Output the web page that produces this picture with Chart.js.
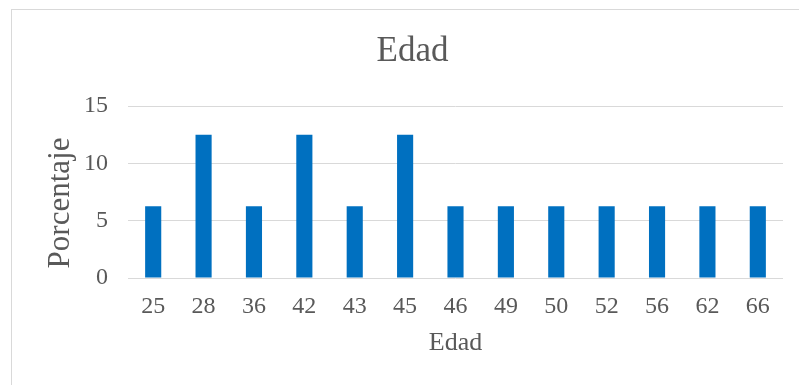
<!DOCTYPE html>
<html>
<head>
<meta charset="utf-8">
<script src="https://cdn.jsdelivr.net/npm/chart.js@4/dist/chart.umd.min.js"></script>
<style>
  html, body { margin: 0; padding: 0; background: #ffffff; }
  #wrap { position: relative; width: 799px; height: 385px; overflow: hidden; }
  #frame { position: absolute; left: 11px; top: 9px; width: 820px; height: 420px;
           border: 1px solid #d9d9d9; box-sizing: border-box; }
  canvas { position: absolute; left: 0; top: 0; }
</style>
</head>
<body>
<div id="wrap">
  <div id="frame"></div>
  <canvas id="chart" width="799" height="385"></canvas>
</div>
<script>
// Edades de los participantes y porcentaje de cada una
const edades = ['25', '28', '36', '42', '43', '45', '46', '49', '50', '52', '56', '62', '66'];
const porcentajes = [6.25, 12.5, 6.25, 12.5, 6.25, 12.5, 6.25, 6.25, 6.25, 6.25, 6.25, 6.25, 6.25];
const ticksY = [0, 5, 10, 15];
const tituloY = 'Porcentaje';

const textColor = '#595959';
const gridColor = '#d9d9d9';
const serif = "'Liberation Serif', 'Times New Roman', serif";

// Título del eje vertical, algo por debajo del centro del área de trazado
const yTitlePlugin = {
  id: 'yTitle',
  afterDraw(chart) {
    const { ctx, chartArea } = chart;
    ctx.save();
    ctx.fillStyle = textColor;
    ctx.font = '31px ' + serif;
    ctx.textAlign = 'center';
    ctx.textBaseline = 'middle';
    ctx.translate(61, (chartArea.top + chartArea.bottom) / 2 + 11);
    ctx.rotate(-Math.PI / 2);
    ctx.fillText(tituloY, 0, 0);
    ctx.restore();
  }
};

new Chart(document.getElementById('chart'), {
  type: 'bar',
  data: {
    labels: edades,
    datasets: [{
      label: tituloY,
      data: porcentajes,
      backgroundColor: '#0070c0',
      borderWidth: 0,
      categoryPercentage: 1,
      barPercentage: 0.32
    }]
  },
  options: {
    responsive: false,
    animation: false,
    layout: { padding: { left: 42, right: 16, top: 0, bottom: 26 } },
    plugins: {
      legend: { display: false },
      tooltip: { enabled: false },
      title: {
        display: true,
        text: 'Edad',
        color: textColor,
        font: { family: serif, size: 35, weight: 'normal' },
        padding: { top: 31, bottom: 33 }
      }
    },
    scales: {
      x: {
        grid: { display: false, drawTicks: false },
        border: { display: false },
        ticks: { color: textColor, font: { family: serif, size: 24 }, padding: 14, maxRotation: 0 },
        title: { display: true, text: 'Edad', color: textColor,
                 font: { family: serif, size: 26 }, padding: 0 },
        afterFit: (s) => { s.height = 81; }
      },
      y: {
        min: 0,
        max: 15,
        afterBuildTicks: (s) => { s.ticks = ticksY.map(v => ({ value: v })); },
        grid: { color: gridColor, lineWidth: 1, drawTicks: false },
        border: { display: false },
        ticks: { color: textColor, font: { family: serif, size: 24 }, padding: 20 },
        afterFit: (s) => { s.width = 86; }
      }
    }
  },
  plugins: [yTitlePlugin]
});
</script>
</body>
</html>
